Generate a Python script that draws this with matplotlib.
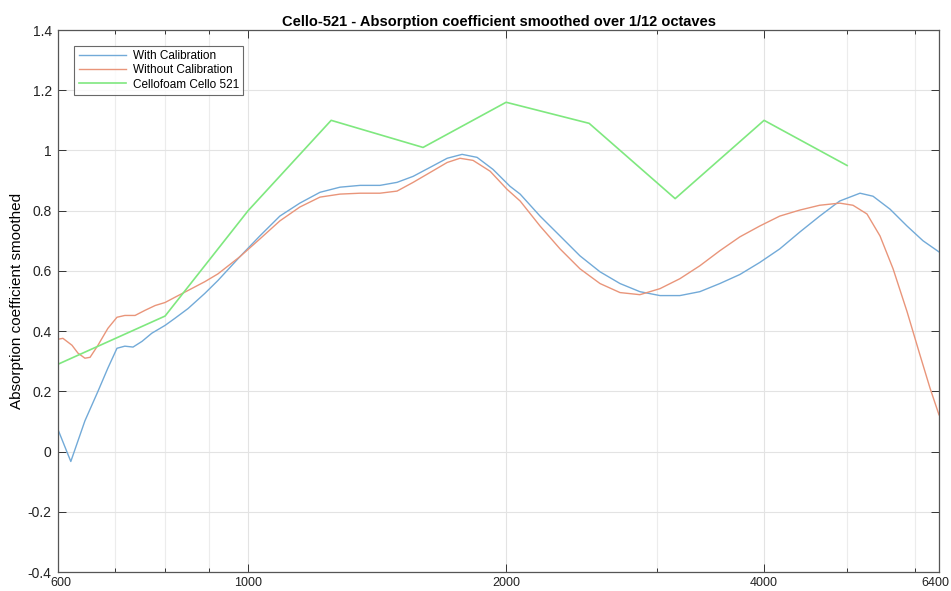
import numpy as np
import matplotlib
matplotlib.use("Agg")
import matplotlib.pyplot as plt
from matplotlib.ticker import FixedLocator, NullFormatter
from matplotlib.transforms import ScaledTranslation

plt.rcParams.update({
    "font.family": ["Liberation Sans", "DejaVu Sans"],
    "font.size": 9,
})

# With calibration (frequency in Hz, smoothed absorption coefficient)
freq_cal = [600, 621, 645, 668, 686, 703, 718, 734, 752, 772, 800, 821, 851,
            890, 922, 978, 1032, 1089, 1149, 1213, 1280, 1351, 1425, 1492,
            1558, 1631, 1707, 1777, 1850, 1931, 2021, 2077, 2191, 2312, 2439,
            2574, 2716, 2865, 3024, 3190, 3366, 3552, 3748, 3954, 4172, 4403,
            4645, 4901, 5176, 5360, 5611, 5873, 6131, 6400]
alpha_cal = [0.073, -0.033, 0.102, 0.200, 0.277, 0.343, 0.350, 0.347, 0.366,
             0.393, 0.419, 0.442, 0.475, 0.525, 0.568, 0.647, 0.716, 0.782,
             0.825, 0.861, 0.878, 0.884, 0.884, 0.894, 0.914, 0.944, 0.974,
             0.987, 0.977, 0.937, 0.881, 0.855, 0.782, 0.716, 0.650, 0.597,
             0.558, 0.531, 0.518, 0.518, 0.531, 0.558, 0.588, 0.628, 0.673,
             0.729, 0.782, 0.832, 0.858, 0.848, 0.805, 0.749, 0.700, 0.663]

# Without calibration
freq_raw = [600, 608, 623, 633, 645, 654, 668, 686, 703, 718, 738, 758, 779,
            800, 821, 851, 890, 922, 978, 1032, 1089, 1149, 1213, 1280, 1351,
            1425, 1492, 1558, 1631, 1707, 1767, 1830, 1916, 2005, 2077, 2191,
            2312, 2439, 2574, 2716, 2865, 3024, 3190, 3366, 3552, 3748, 3954,
            4172, 4403, 4645, 4901, 5079, 5274, 5462, 5657, 5873, 6082, 6247,
            6400]
alpha_raw = [0.373, 0.376, 0.353, 0.327, 0.310, 0.313, 0.353, 0.409, 0.446,
             0.452, 0.452, 0.469, 0.485, 0.495, 0.512, 0.535, 0.564, 0.590,
             0.647, 0.706, 0.766, 0.812, 0.845, 0.855, 0.858, 0.858, 0.865,
             0.894, 0.927, 0.960, 0.974, 0.967, 0.931, 0.871, 0.832, 0.749,
             0.673, 0.607, 0.558, 0.528, 0.521, 0.541, 0.574, 0.617, 0.667,
             0.713, 0.749, 0.782, 0.802, 0.818, 0.825, 0.818, 0.789, 0.716,
             0.607, 0.465, 0.320, 0.211, 0.122]

# Manufacturer data (third-octave bands)
freq_ref = [600, 800, 1000, 1250, 1600, 2000, 2500, 3150, 4000, 5000]
alpha_ref = [0.29, 0.45, 0.80, 1.10, 1.01, 1.16, 1.09, 0.84, 1.10, 0.95]

labels = ["With Calibration", "Without Calibration", "Cellofoam Cello 521"]
x_major = [600, 1000, 2000, 4000, 6400]
x_minor = [700, 800, 900, 3000, 5000, 6000]

fig = plt.figure(figsize=(9.51, 5.91), dpi=100)
ax = fig.add_axes([58 / 951, 19 / 591, 881 / 951, 542 / 591])

ax.plot(freq_cal, alpha_cal, color="#72aad8", lw=1.0, label=labels[0])
ax.plot(freq_raw, alpha_raw, color="#e9957a", lw=1.0, label=labels[1])
ax.plot(freq_ref, alpha_ref, color="#7fe87f", lw=1.2, label=labels[2])

ax.set_xscale("log")
ax.set_xlim(600, 6400)
ax.set_ylim(-0.4, 1.4)
ax.xaxis.set_major_locator(FixedLocator(x_major))
ax.xaxis.set_minor_locator(FixedLocator(x_minor))
ax.xaxis.set_minor_formatter(NullFormatter())
ax.set_xticklabels([str(v) for v in x_major])
ax.set_yticks(np.round(np.arange(-0.4, 1.41, 0.2), 1))
ax.set_yticklabels(["-0.4", "-0.2", "0", "0.2", "0.4", "0.6", "0.8", "1",
                    "1.2", "1.4"])

ax.grid(True, which="major", color="#e3e3e3", linewidth=0.8)
ax.grid(True, which="minor", color="#ececec", linewidth=0.8)
ax.set_axisbelow(True)
ax.tick_params(which="both", direction="in", top=True, right=True,
               colors="#333333", labelcolor="#222222", labelsize=10)
ax.tick_params(axis="x", which="major", labelsize=9, pad=3.5)
ax.tick_params(which="major", length=6, width=0.7)
ax.tick_params(axis="y", pad=4.5)
ax.tick_params(which="minor", length=3, width=0.7)
for s in ax.spines.values():
    s.set_color("#555555")
    s.set_linewidth(0.9)

# keep the first and last x labels clear of the corner / figure edge
first, last = ax.get_xticklabels()[0], ax.get_xticklabels()[-1]
first.set_transform(first.get_transform() +
                    ScaledTranslation(3 / 100, 0, fig.dpi_scale_trans))
last.set_transform(last.get_transform() +
                   ScaledTranslation(-4 / 100, 0, fig.dpi_scale_trans))

ax.set_ylabel("Absorption coefficient smoothed", fontsize=11, labelpad=3)
ax.set_title("Cello-521 - Absorption coefficient smoothed over 1/12 octaves",
             fontsize=10.5, fontweight="bold", pad=3)

leg = ax.legend(loc="upper left", bbox_to_anchor=(0.012, 0.982), fontsize=8.5,
                frameon=True, fancybox=False, handlelength=4.0,
                borderpad=0.35, labelspacing=0.2, handletextpad=0.6)
leg.get_frame().set_edgecolor("#444444")
leg.get_frame().set_linewidth(0.8)

fig.savefig("out.png", dpi=100)
